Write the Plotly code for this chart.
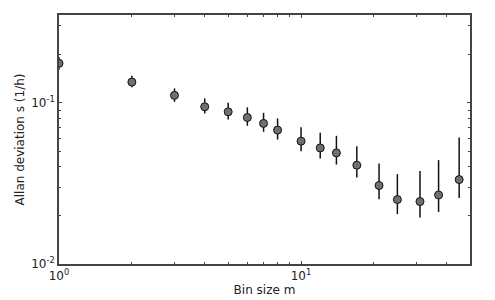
import plotly.graph_objects as go

bin_size = [1, 2, 3, 4, 5, 6, 7, 8, 10, 12, 14, 17, 21, 25, 31, 37, 45]
allan_dev = [0.1757, 0.1345, 0.1112, 0.0945, 0.0879, 0.0811, 0.0745, 0.0677, 0.0578,
             0.0525, 0.0489, 0.0410, 0.0307, 0.0251, 0.0244, 0.0268, 0.0334]
err_plus = [0.0157, 0.0126, 0.0117, 0.0120, 0.0121, 0.0126, 0.0122, 0.0123, 0.0126,
            0.0126, 0.0135, 0.0128, 0.0113, 0.0110, 0.0133, 0.0173, 0.0276]
err_minus = [0.0145, 0.0098, 0.0098, 0.0086, 0.0091, 0.0091, 0.0084, 0.0085, 0.0077,
             0.0073, 0.0075, 0.0066, 0.0055, 0.0047, 0.0050, 0.0058, 0.0077]

x_tickvals = [1, 10]
x_ticktext = ["10<sup>0</sup>", "10<sup>1</sup>"]
x_minor = [2, 3, 4, 5, 6, 7, 8, 9, 20, 30, 40]
y_tickvals = [0.01, 0.1]
y_ticktext = ["10<sup>-2</sup>", "10<sup>-1</sup>"]
y_minor = [0.02, 0.03, 0.04, 0.05, 0.06, 0.07, 0.08, 0.09, 0.2, 0.3]

fig = go.Figure()
fig.add_trace(go.Scatter(
    x=bin_size, y=allan_dev, mode="markers",
    marker=dict(size=8, color="#707070", line=dict(color="#111111", width=1)),
    error_y=dict(type="data", symmetric=False, array=err_plus, arrayminus=err_minus,
                 color="#111111", thickness=1.5, width=0),
))

axis_common = dict(
    showline=True, linecolor="#444444", linewidth=1.5, mirror="ticks",
    ticks="inside", ticklen=3, tickcolor="#444444", showgrid=False, zeroline=False,
    tickfont=dict(family="DejaVu Sans", size=12, color="#222222"),
    automargin=False,
)

fig.update_xaxes(
    type="log", range=[0, 1.698],
    tickvals=x_tickvals, ticktext=x_ticktext,
    minor=dict(tickvals=x_minor, ticks="inside", ticklen=2, tickcolor="#444444"),
    title=dict(text="Bin size m", font=dict(family="DejaVu Sans", size=12, color="#222222"), standoff=2),
    **axis_common,
)
fig.update_yaxes(
    type="log", range=[-2, -0.4553],
    tickvals=y_tickvals, ticktext=y_ticktext,
    minor=dict(tickvals=y_minor, ticks="inside", ticklen=2, tickcolor="#444444"),
    title=dict(text="Allan deviation s (1/h)", font=dict(family="DejaVu Sans", size=12, color="#222222"), standoff=4),
    **axis_common,
)

fig.update_layout(
    width=495, height=300,
    margin=dict(l=59, r=25, t=15, b=36),
    paper_bgcolor="white", plot_bgcolor="white",
    showlegend=False,
)

fig.write_html("out.html")
